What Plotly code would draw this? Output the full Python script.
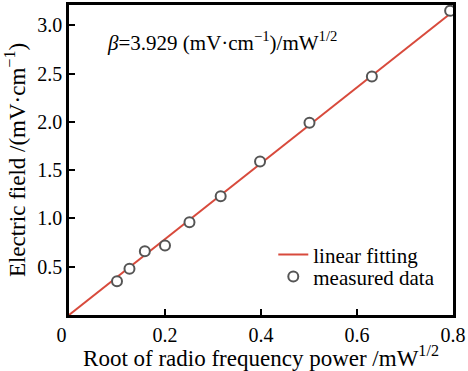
import plotly.graph_objects as go

# measured data
x_meas = [0.100, 0.126, 0.158, 0.200, 0.251, 0.316, 0.398, 0.501, 0.631, 0.794]
y_meas = [0.35, 0.48, 0.66, 0.72, 0.96, 1.23, 1.59, 1.99, 2.47, 3.15]
# linear fit (slope 3.929)
x_fit = [0.0, 0.8]
y_fit = [0.0, 3.143]

x_ticks = [0, 0.2, 0.4, 0.6, 0.8]
x_ticktext = ["0\u00a0\u00a0\u00a0", "0.2", "0.4", "0.6", "0.8"]
y_ticks = [0.5, 1.0, 1.5, 2.0, 2.5, 3.0]
y_ticktext = ["0.5", "1.0", "1.5", "2.0", "2.5", "3.0"]

FONT = "Liberation Serif"

fig = go.Figure()
fig.add_trace(go.Scatter(x=x_fit, y=y_fit, mode="lines", name="linear fitting",
                         line=dict(color="#d84a3c", width=2), legend="legend"))
fig.add_trace(go.Scatter(x=x_meas, y=y_meas, mode="markers", name="measured data",
                         marker=dict(symbol="circle", size=10, color="white",
                                     line=dict(color="#555555", width=2)),
                         legend="legend2"))

leg_common = dict(xanchor="left", yanchor="middle", bgcolor="rgba(0,0,0,0)",
                  font=dict(family=FONT, size=21), itemwidth=30,
                  tracegroupgap=0, borderwidth=0)

fig.update_layout(
    width=468, height=371,
    margin=dict(l=69, r=15, t=5, b=56, autoexpand=False),
    plot_bgcolor="white", paper_bgcolor="white",
    font=dict(family=FONT, size=19, color="black"),
    showlegend=True,
    legend=dict(x=0.532, y=0.194, **leg_common),
    legend2=dict(x=0.532, y=0.123, **leg_common),
    annotations=[dict(text="<i>β</i>=3.929 (mV·cm<sup>−1</sup>)/mW<sup>1/2</sup>",
                      x=0.075, y=2.83, xref="x", yref="y", xanchor="left",
                      yanchor="middle", showarrow=False,
                      font=dict(family=FONT, size=21))],
)
fig.update_xaxes(range=[0, 0.8], tickvals=x_ticks, ticktext=x_ticktext,
                 ticks="inside", ticklen=6, tickwidth=2, tickcolor="black",
                 showline=True, linecolor="black", linewidth=2.5, mirror=True,
                 showgrid=False, zeroline=False, automargin=False,
                 tickfont=dict(size=20),
                 title=dict(text="Root of radio frequency power /mW<sup>1/2</sup>",
                            standoff=2))
fig.update_yaxes(range=[0, 3.21], tickvals=y_ticks, ticktext=y_ticktext,
                 ticks="inside", ticklen=6, tickwidth=2, tickcolor="black",
                 showline=True, linecolor="black", linewidth=2.5, mirror=True,
                 showgrid=False, zeroline=False, automargin=False,
                 tickfont=dict(size=20),
                 title=dict(text="Electric field /(mV·cm<sup>−1</sup>)", standoff=6))

fig.write_html("out.html", config={"displayModeBar": False},
               post_script="document.body.style.margin='0';document.body.style.overflow='hidden';")
